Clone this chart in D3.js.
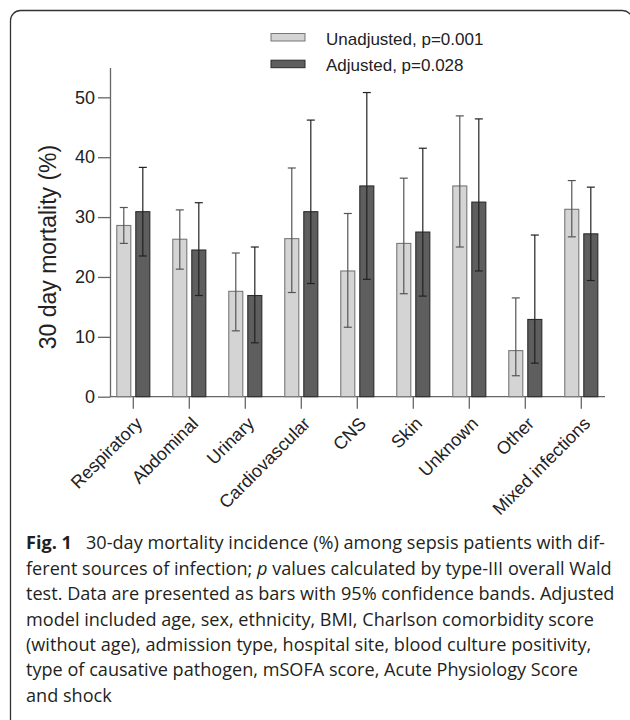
<!DOCTYPE html>
<html>
<head>
<meta charset="utf-8">
<script src="https://cdn.jsdelivr.net/npm/d3@7"></script>
<style>
  body { margin: 0; background: #fff; }
  svg { display: block; }
</style>
</head>
<body>
<div id="chart"></div>
<script>
// Data
const categories = ["Respiratory", "Abdominal", "Urinary", "Cardiovascular", "CNS", "Skin", "Unknown", "Other", "Mixed infections"];
const seriesNames = ["Unadjusted, p=0.001", "Adjusted, p=0.028"];
const unadjusted = [28.6, 26.3, 17.6, 26.4, 21.0, 25.6, 35.2, 7.7, 31.3];
const unadjLower = [25.6, 21.3, 11.0, 17.4, 11.6, 17.2, 25.0, 3.5, 26.7];
const unadjUpper = [31.6, 31.2, 24.0, 38.2, 30.6, 36.5, 46.9, 16.5, 36.1];
const adjusted = [30.9, 24.5, 16.9, 30.9, 35.2, 27.5, 32.5, 12.9, 27.2];
const adjLower = [23.5, 16.9, 9.0, 18.9, 19.6, 16.8, 21.0, 5.6, 19.4];
const adjUpper = [38.3, 32.4, 25.0, 46.2, 50.8, 41.5, 46.4, 27.0, 35.0];
const yTicks = [0, 10, 20, 30, 40, 50];

const captionLines = [
  [["Fig. 1", "bold"], ["\u00a0\u00a0\u00a030-day mortality incidence (%) among sepsis patients with dif-", ""]],
  [["ferent sources of infection; ", ""], ["p", "italic"], [" values calculated by type-III overall Wald", ""]],
  [["test. Data are presented as bars with 95% confidence bands. Adjusted", ""]],
  [["model included age, sex, ethnicity, BMI, Charlson comorbidity score", ""]],
  [["(without age), admission type, hospital site, blood culture positivity,", ""]],
  [["type of causative pathogen, mSOFA score, Acute Physiology Score", ""]],
  [["and shock", ""]]
];

const width = 630;
const height = 720;
const fills = ["#d4d4d4", "#5e5e5e"];
const strokes = ["#777", "#2b2b2b"];
const errColor = ["#555", "#222"];

const svg = d3.select("#chart")
    .append("svg")
    .attr("width", width)
    .attr("height", height);

// frame (right side runs off the page)
svg.append("rect")
    .attr("x", 10.5).attr("y", 10.5)
    .attr("width", 622).attr("height", 780)
    .attr("rx", 10)
    .attr("fill", "none")
    .attr("stroke", "#333")
    .attr("stroke-width", 1.3);

// Scales
const x = d3.scaleBand()
    .domain(categories)
    .range([105.3, 609.3])
    .paddingInner(0.41)
    .paddingOuter(0.205);

const x1 = d3.scaleBand()
    .domain([0, 1])
    .range([0, x.bandwidth()])
    .paddingInner(0.263);

const y = d3.scaleLinear()
    .domain([0, 55])
    .range([396.7, 67.4]);

// Axes
const yAxis = svg.append("g")
    .attr("transform", "translate(110,0)")
    .call(d3.axisLeft(y).tickValues(yTicks).tickSize(12).tickPadding(3).tickSizeOuter(0));

const xAxis = svg.append("g")
    .attr("transform", `translate(0,${y(0)})`)
    .call(d3.axisBottom(x).tickSize(12).tickSizeOuter(0).tickFormat(""));

[yAxis, xAxis].forEach(g => {
  g.select(".domain").attr("stroke", "#666").attr("stroke-width", 1.3);
  g.selectAll(".tick line").attr("stroke", "#666").attr("stroke-width", 1.3);
});
xAxis.select(".domain").attr("d", `M110,0H605`);
yAxis.selectAll(".tick text")
    .attr("font-family", "Liberation Sans, Arial, sans-serif")
    .attr("font-size", 18)
    .attr("fill", "#222");

// x labels, rotated
svg.append("g").selectAll("text")
    .data(categories)
    .join("text")
    .attr("transform", d => `translate(${x(d) + x.bandwidth() / 2 + 10},${y(0) + 28}) rotate(-45)`)
    .attr("text-anchor", "end")
    .attr("font-family", "Liberation Sans, Arial, sans-serif")
    .attr("font-size", 18)
    .attr("fill", "#222")
    .text(d => d);

// y label
svg.append("text")
    .attr("transform", `translate(56,${(y(0) + y(55)) / 2 + 15}) rotate(-90)`)
    .attr("text-anchor", "middle")
    .attr("font-family", "Liberation Sans, Arial, sans-serif")
    .attr("font-size", 23)
    .attr("fill", "#222")
    .text("30 day mortality (%)");

// bars
const series = [
  { vals: unadjusted, lo: unadjLower, hi: unadjUpper },
  { vals: adjusted, lo: adjLower, hi: adjUpper }
];

series.forEach((s, k) => {
  const g = svg.append("g");
  g.selectAll("rect")
      .data(categories)
      .join("rect")
      .attr("x", d => x(d) + x1(k))
      .attr("y", (d, i) => y(s.vals[i]))
      .attr("width", x1.bandwidth())
      .attr("height", (d, i) => y(0) - y(s.vals[i]))
      .attr("fill", fills[k])
      .attr("stroke", strokes[k])
      .attr("stroke-width", 1.1);

  const cx = d => x(d) + x1(k) + x1.bandwidth() / 2;
  const eb = g.selectAll("g.err")
      .data(categories)
      .join("g")
      .attr("stroke", errColor[k])
      .attr("stroke-width", 1.2);
  eb.append("line")
      .attr("x1", cx).attr("x2", cx)
      .attr("y1", (d, i) => y(s.lo[i]))
      .attr("y2", (d, i) => y(s.hi[i]));
  eb.append("line")
      .attr("x1", d => cx(d) - 4).attr("x2", d => cx(d) + 4)
      .attr("y1", (d, i) => y(s.hi[i]))
      .attr("y2", (d, i) => y(s.hi[i]));
  eb.append("line")
      .attr("x1", d => cx(d) - 4).attr("x2", d => cx(d) + 4)
      .attr("y1", (d, i) => y(s.lo[i]))
      .attr("y2", (d, i) => y(s.lo[i]));
});

// legend
const legend = svg.append("g").attr("transform", "translate(271,33.5)");
seriesNames.forEach((name, k) => {
  legend.append("rect")
      .attr("x", 0).attr("y", k * 26.7)
      .attr("width", 34).attr("height", 7.5)
      .attr("fill", fills[k])
      .attr("stroke", strokes[k])
      .attr("stroke-width", 1);
  legend.append("text")
      .attr("x", 55).attr("y", k * 25.5 + 11.8)
      .attr("font-family", "Liberation Sans, Arial, sans-serif")
      .attr("font-size", 17)
      .attr("fill", "#222")
      .text(name);
});

// caption
const cap = svg.append("g").attr("font-family", "Open Sans, sans-serif").attr("font-size", 18).attr("fill", "#231f20");
const capLines = captionLines.map((parts, i) => {
  const t = cap.append("text").attr("x", 0).attr("y", 0)
      .attr("transform", `translate(26,${549.3 + i * 25.4})`);
  parts.forEach(([txt, style]) => {
    const ts = t.append("tspan").text(txt);
    if (style === "bold") ts.attr("font-weight", "bold");
    if (style === "italic") ts.attr("font-style", "italic");
  });
  return t;
});
// squeeze caption horizontally to match the narrower original face
const sx = 586 / capLines[1].node().getComputedTextLength();
capLines.forEach((t, i) => t.attr("transform", `translate(26,${549.3 + i * 25.4}) scale(${sx},1)`));
</script>
</body>
</html>
